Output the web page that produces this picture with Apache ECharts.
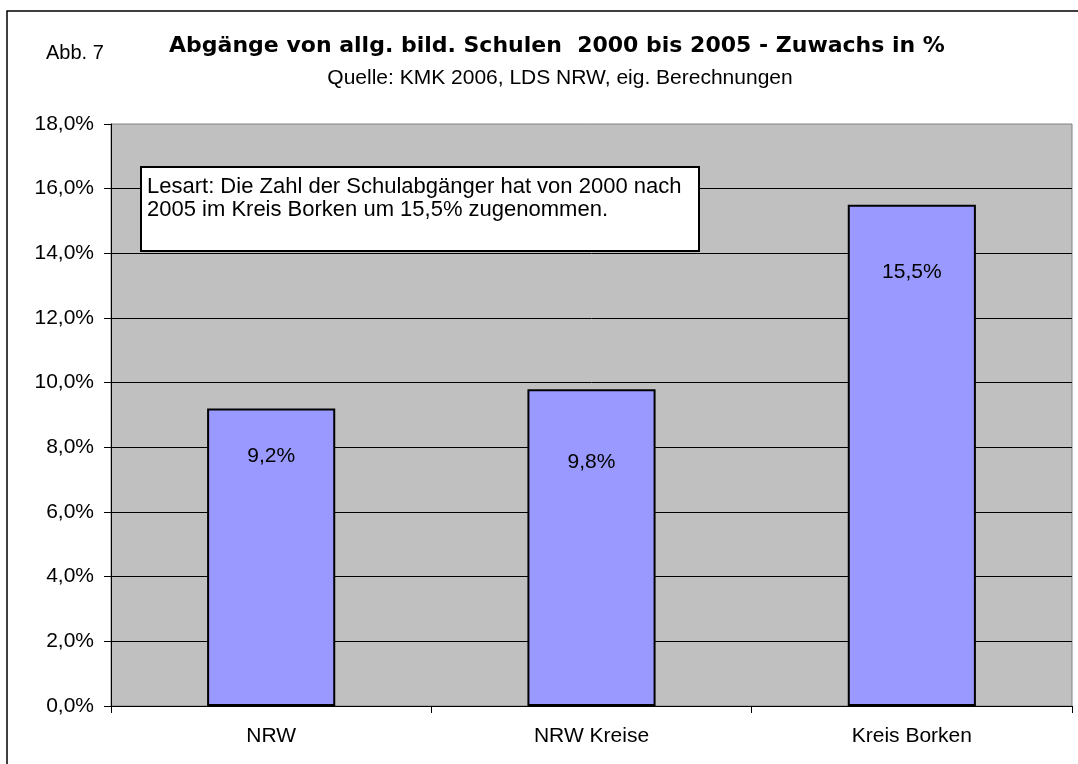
<!DOCTYPE html>
<html>
<head>
<meta charset="utf-8">
<script src="https://cdn.jsdelivr.net/npm/echarts@6/dist/echarts.min.js"></script>
<style>
  html, body { margin: 0; padding: 0; background: #fff; }
  #main { width: 1078px; height: 764px; }
</style>
</head>
<body>
<div id="main"></div>
<script>
// chart data
const categories = ["NRW", "NRW Kreise", "Kreis Borken"];
const growth = [9.2, 9.8, 15.5]; // Zuwachs in %
const yTicks = [0, 2, 4, 6, 8, 10, 12, 14, 16, 18];

const titleText = "Abgänge von allg. bild. Schulen  2000 bis 2005 - Zuwachs in %";
const sourceText = "Quelle: KMK 2006, LDS NRW, eig. Berechnungen";
const noteLines = [
  "Lesart: Die Zahl der Schulabgänger hat von 2000 nach",
  "2005 im Kreis Borken um 15,5% zugenommen."
];

const font = "'Liberation Sans', Arial, sans-serif";
const pct = (v) => v.toFixed(1).replace(".", ",") + "%";

// label offset inside each bar (the original labels were placed by hand)
const labelDist = [37, 63, 57];

var myChart = echarts.init(document.getElementById("main"));

var option = {
  backgroundColor: "#ffffff",
  textStyle: { fontFamily: font },
  title: [
    {
      text: titleText,
      left: 552,
      top: 30,
      textAlign: "center",
      textStyle: { fontFamily: "'DejaVu Sans', sans-serif", fontWeight: "bold", fontSize: 22, color: "#000" },
    },
    {
      text: sourceText,
      left: 555,
      top: 63,
      textAlign: "center",
      textStyle: { fontFamily: font, fontWeight: "normal", fontSize: 21, color: "#000" },
    },
    {
      text: "Abb. 7",
      left: 41,
      top: 38,
      textStyle: { fontFamily: font, fontWeight: "normal", fontSize: 20, color: "#000" },
    },
  ],
  grid: {
    left: 111,
    right: 6,
    top: 124,
    bottom: 58,
    show: true,
    backgroundColor: "#c0c0c0",
    borderColor: "#808080",
    borderWidth: 1,
  },
  xAxis: {
    type: "category",
    data: categories,
    axisLine: { lineStyle: { color: "#000", width: 1 } },
    axisTick: { show: true, length: 7, lineStyle: { color: "#000" } },
    axisLabel: { color: "#000", fontSize: 21, margin: 20, fontFamily: font },
  },
  yAxis: {
    type: "value",
    min: yTicks[0],
    max: yTicks[yTicks.length - 1],
    interval: 2,
    axisLine: { show: true, lineStyle: { color: "#000", width: 1 } },
    axisTick: { show: true, length: 7, lineStyle: { color: "#000" } },
    axisLabel: { color: "#000", fontSize: 21, margin: 17, fontFamily: font, formatter: pct },
    splitLine: { show: true, showMaxLine: false, lineStyle: { color: "#000", width: 1 } },
  },
  series: [
    {
      type: "bar",
      barWidth: "40%",
      data: growth.map((v, i) => ({
        value: v,
        label: { distance: labelDist[i] },
      })),
      itemStyle: { color: "#9999ff", borderColor: "#000", borderWidth: 2 },
      label: {
        show: true,
        position: "insideTop",
        color: "#000",
        fontSize: 21,
        fontFamily: font,
        formatter: (p) => pct(p.value),
      },
    },
  ],
  graphic: [
    {
      type: "rect",
      shape: { x: 7, y: 11, width: 1120, height: 820 },
      style: { fill: "none", stroke: "#000", lineWidth: 1.5 },
      silent: true,
    },
    {
      type: "rect",
      shape: { x: 141, y: 167, width: 558, height: 84 },
      style: { fill: "#fff", stroke: "#000", lineWidth: 2 },
      z: 10,
    },
    {
      type: "text",
      left: 147,
      top: 175,
      z: 11,
      style: {
        text: noteLines.join("\n"),
        fontSize: 22,
        lineHeight: 23,
        fontFamily: font,
        fill: "#000",
      },
    },
  ],
};
myChart.setOption(option);
</script>
</body>
</html>
